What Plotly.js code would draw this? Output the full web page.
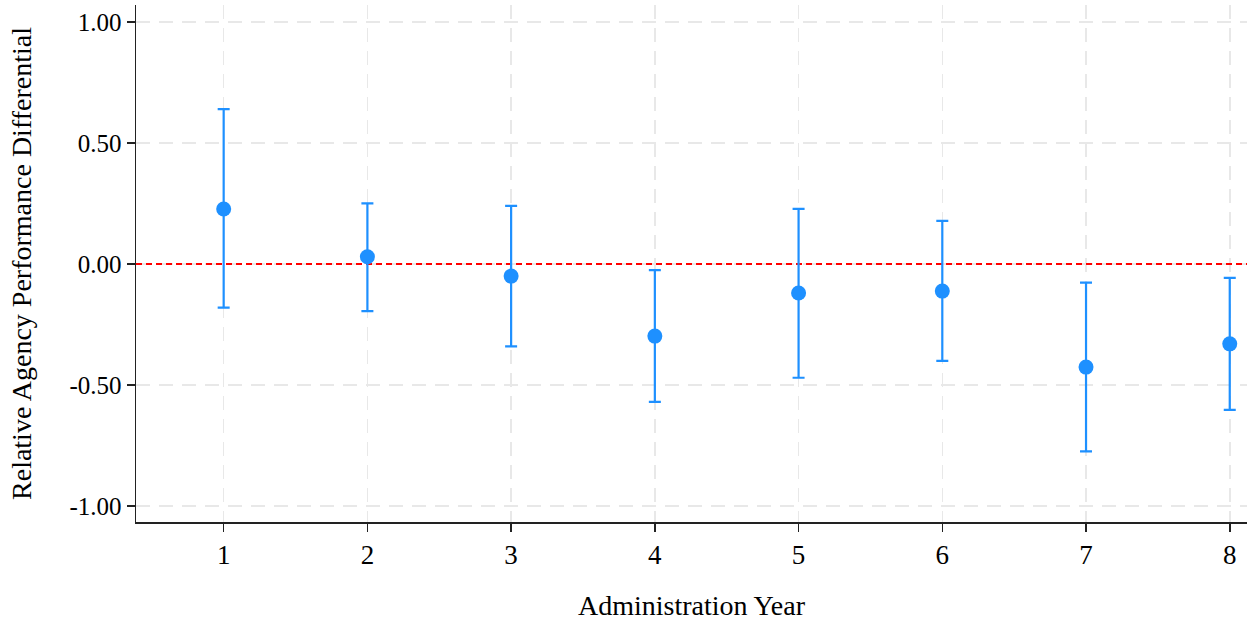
<!DOCTYPE html>
<html>
<head>
<meta charset="utf-8">
<script src="https://cdn.plot.ly/plotly-3.0.1.min.js"></script>
<style>html,body{margin:0;padding:0;background:#fff;}#chart{width:1249px;height:622px;}</style>
</head>
<body>
<div id="chart"></div>
<script>
const years = [1, 2, 3, 4, 5, 6, 7, 8];
const estimates = [0.227, 0.03, -0.05, -0.298, -0.12, -0.112, -0.426, -0.33];
const upperCI = [0.64, 0.25, 0.24, -0.025, 0.228, 0.178, -0.077, -0.057];
const lowerCI = [-0.18, -0.195, -0.34, -0.57, -0.47, -0.40, -0.774, -0.603];
const yTickVals = [-1, -0.5, 0, 0.5, 1];
const yTickText = ["-1.00", "-0.50", "0.00", "0.50", "1.00"];
const xRange = [0.39, 8.12];
const refLineY = 0;

const errPlus = estimates.map((v, i) => upperCI[i] - v);
const errMinus = estimates.map((v, i) => v - lowerCI[i]);

const font = "Liberation Serif, DejaVu Serif, serif";

const refLine = {
  x: xRange, y: [refLineY, refLineY], type: "scatter", mode: "lines",
  line: {color: "#ff0000", width: 2.2, dash: "6px,4px"},
  showlegend: false, hoverinfo: "skip", cliponaxis: true
};

const trace = {
  x: years, y: estimates, type: "scatter", mode: "markers",
  marker: {color: "#1E90FF", size: 15},
  error_y: {type: "data", symmetric: false, array: errPlus, arrayminus: errMinus,
            color: "#1E90FF", thickness: 2.2, width: 6},
  showlegend: false, hoverinfo: "skip"
};

const layout = {
  width: 1249, height: 622,
  margin: {l: 136, r: 2, t: 5, b: 100},
  paper_bgcolor: "#fff", plot_bgcolor: "#fff",
  font: {family: font, color: "#000"},
  xaxis: {
    range: xRange, tickvals: years, ticktext: years.map(String),
    ticks: "outside", ticklen: 8, tickwidth: 1.5, tickcolor: "#222",
    showline: true, linecolor: "#222", linewidth: 1.5,
    showgrid: true, gridcolor: "#e8e8e8", griddash: "14px,9px", gridwidth: 1.5,
    zeroline: false, tickfont: {size: 27, family: font},
    title: {text: "Administration Year", font: {size: 28, family: font}, standoff: 26}
  },
  yaxis: {
    range: [-1.066, 1.07], tickvals: yTickVals, ticktext: yTickText,
    ticks: "outside", ticklen: 8, tickwidth: 1.5, tickcolor: "#222",
    showline: true, linecolor: "#222", linewidth: 1.5,
    showgrid: true, gridcolor: "#e8e8e8", griddash: "14px,9px", gridwidth: 1.5,
    zeroline: false, tickfont: {size: 25, family: font},
    title: {text: "Relative Agency Performance Differential", font: {size: 28, family: font}, standoff: 29}
  }
};

Plotly.newPlot("chart", [refLine, trace], layout, {displayModeBar: false, staticPlot: true});
</script>
</body>
</html>
